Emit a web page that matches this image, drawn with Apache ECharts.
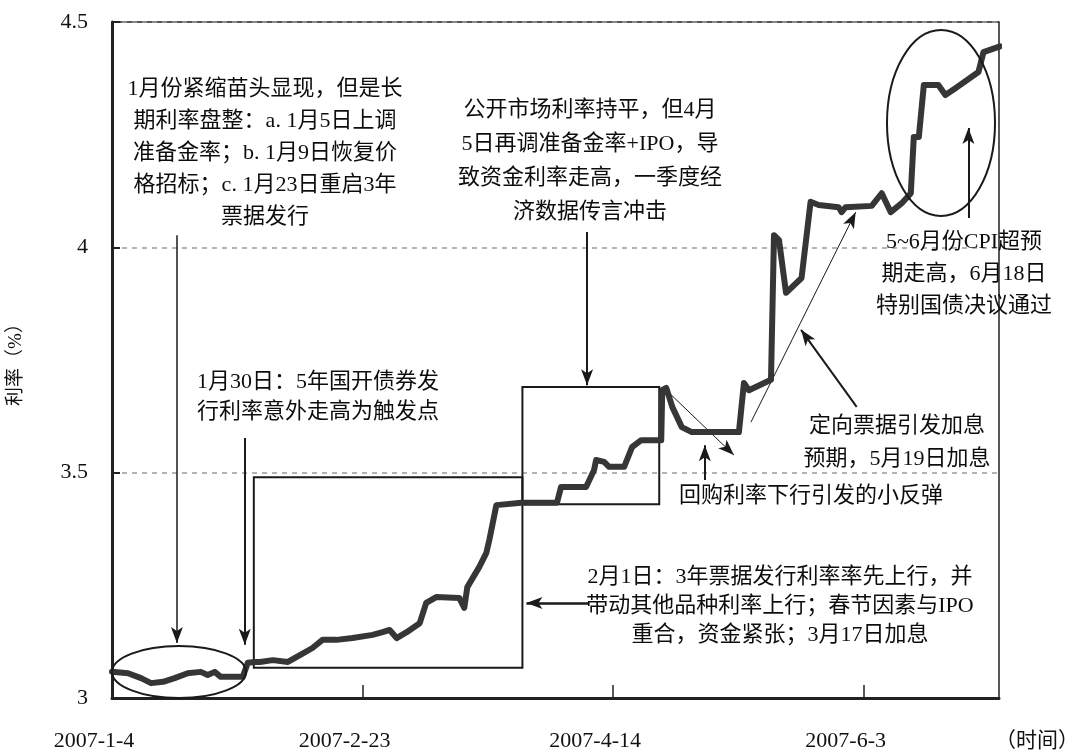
<!DOCTYPE html>
<html>
<head>
<meta charset="utf-8">
<script src="https://cdn.jsdelivr.net/npm/echarts@6/dist/echarts.min.js"></script>
<style>
  html, body { margin: 0; padding: 0; background: #fff; overflow: hidden; }
  #main { width: 1072px; height: 756px; }
</style>
</head>
<body>
<div id="main"></div>
<script>
// days counted from 2007-1-4, rates in %
var days = [0, 3.2, 5.8, 7.8, 10.2, 12.5, 15.1, 17.7, 19.1, 20.5, 21.7, 24.5, 26.1, 27.1, 28.5,
    29.5, 32.1, 35.1, 37.5, 40.0, 42.0, 44.8, 48.0, 52.0, 54.0, 55.4, 56.8, 58.8, 61.4, 62.7,
    64.7, 69.3, 70.3, 70.9, 73.3, 74.7, 75.3, 76.7, 81.7, 88.8, 89.6, 94.6, 96.2, 96.6, 98.2,
    99.2, 102.2, 103.8, 105.6, 109.6, 109.8, 110.6, 111.8, 113.7, 115.7, 125.1, 126.1, 127.1,
    131.5, 132.1, 133.1, 134.5, 137.6, 139.4, 141.0, 145.0, 145.6, 146.4, 151.6, 153.6, 155.4,
    157.6, 159.4, 160.0, 161.0, 162.0, 164.9, 166.3, 168.3, 172.9, 173.9, 177.2];
var rates = [3.058, 3.055, 3.044, 3.033, 3.036, 3.044, 3.055, 3.058, 3.051, 3.058, 3.047, 3.047, 3.047, 3.078, 3.080,
    3.080, 3.084, 3.080, 3.095, 3.111, 3.129, 3.129, 3.133, 3.140, 3.146, 3.151, 3.133, 3.146, 3.166, 3.211,
    3.224, 3.222, 3.200, 3.246, 3.291, 3.322, 3.351, 3.428, 3.433, 3.433, 3.468, 3.468, 3.506, 3.528, 3.524,
    3.513, 3.513, 3.557, 3.572, 3.572, 3.683, 3.688, 3.646, 3.601, 3.590, 3.590, 3.699, 3.683,
    3.706, 4.027, 4.016, 3.899, 3.932, 4.101, 4.094, 4.089, 4.078, 4.089, 4.092, 4.120, 4.078,
    4.098, 4.120, 4.245, 4.245, 4.360, 4.360, 4.338, 4.353, 4.389, 4.433, 4.446];

var yTicks = [3, 3.5, 4, 4.5];

// boxes and arrows, in [day, rate]
var boxes = [
    [[28.3, 3.490], [81.9, 3.067]],
    [[81.9, 3.690], [109.2, 3.430]]
];
var arrows = [
    [[12.95, 4.027], [12.95, 3.122], 1.5],
    [[26.5, 3.577], [26.5, 3.118], 2],
    [[94.8, 4.034], [94.8, 3.694], 2],
    [[95.2, 3.211], [82.7, 3.211], 2.5],
    [[118.3, 3.484], [118.3, 3.561], 2],
    [[110.8, 3.681], [124.1, 3.539], 1],
    [[127.5, 3.612], [148.4, 4.078], 1],
    [[148.6, 3.646], [137.5, 3.817], 2],
    [[170.9, 4.065], [170.9, 4.265], 2]
];

var notes = [
    { text: '1月份紧缩苗头显现，但是长\n期利率盘整：a. 1月5日上调\n准备金率；b. 1月9日恢复价\n格招标；c. 1月23日重启3年\n票据发行', x: 265, y: 73, lh: 32 },
    { text: '公开市场利率持平，但4月\n5日再调准备金率+IPO，导\n致资金利率走高，一季度经\n济数据传言冲击', x: 590, y: 93, lh: 34 },
    { text: '1月30日：5年国开债券发\n行利率意外走高为触发点', x: 318, y: 367, lh: 30 },
    { text: '2月1日：3年票据发行利率率先上行，并\n带动其他品种利率上行；春节因素与IPO\n重合，资金紧张；3月17日加息', x: 780, y: 563, lh: 29 },
    { text: '回购利率下行引发的小反弹', x: 811, y: 481, lh: 30 },
    { text: '定向票据引发加息\n预期，5月19日加息', x: 897, y: 410, lh: 33 },
    { text: '5~6月份CPI超预\n期走高，6月18日\n特别国债决议通过', x: 964, y: 226, lh: 32 }
];

var FONT = '"Liberation Serif", "Noto Sans CJK SC"';
var dom = document.getElementById('main');
var myChart = echarts.init(dom);

var lineData = days.map(function (d, i) { return [d, rates[i]]; });

var graphics = notes.map(function (n) {
    return {
        type: 'text',
        x: n.x,
        y: n.y,
        z: 100,
        style: {
            text: n.text,
            fill: '#0d0d0d',
            font: '22px ' + FONT,
            align: 'center',
            verticalAlign: 'top',
            lineHeight: n.lh
        }
    };
});
graphics.push({
    type: 'ellipse',
    shape: { cx: 179, cy: 672, rx: 67, ry: 26 },
    style: { fill: 'none', stroke: '#1a1a1a', lineWidth: 2 },
    z: 100
});
graphics.push({
    type: 'ellipse',
    shape: { cx: 941, cy: 123, rx: 54, ry: 93 },
    style: { fill: 'none', stroke: '#1a1a1a', lineWidth: 2 },
    z: 100
});

myChart.setOption({
    animation: false,
    grid: {
        left: 112,
        right: 73,
        top: 22,
        bottom: 58,
        outerBoundsMode: 'none',
        containLabel: false,
        show: true,
        borderColor: '#222',
        borderWidth: 1.5
    },
    xAxis: {
        type: 'value',
        min: 0,
        max: 177,
        interval: 50,
        name: '（时间）',
        nameLocation: 'end',
        nameGap: -4,
        nameTextStyle: {
            fontFamily: FONT,
            fontSize: 21,
            color: '#111',
            align: 'left',
            verticalAlign: 'top',
            padding: [33, 0, 0, 0]
        },
        axisLine: { lineStyle: { color: '#222', width: 3 } },
        axisTick: { inside: true, length: 13, lineStyle: { color: '#222', width: 1.5 } },
        splitLine: { show: false },
        axisLabel: {
            margin: 32,
            color: '#111',
            fontFamily: FONT,
            fontSize: 22,
            padding: [0, 36, 0, 0],
            showMaxLabel: false,
            formatter: function (v) {
                if (v % 50) return '';
                var d = new Date(2007, 0, 4 + v);
                return d.getFullYear() + '-' + (d.getMonth() + 1) + '-' + d.getDate();
            }
        }
    },
    yAxis: {
        type: 'value',
        min: yTicks[0],
        max: yTicks[yTicks.length - 1],
        interval: 0.5,
        name: '利率（%）',
        nameLocation: 'middle',
        nameRotate: 90,
        nameGap: 86,
        nameTextStyle: { fontFamily: FONT, fontSize: 19, color: '#111' },
        axisLine: { lineStyle: { color: '#222', width: 3 } },
        axisTick: { inside: true, length: 8, lineStyle: { color: '#222', width: 2 } },
        splitLine: { show: true, lineStyle: { color: '#9a9a9a', type: [5, 5], width: 1.5 } },
        axisLabel: {
            margin: 24,
            color: '#111',
            fontFamily: FONT,
            fontSize: 22,
            formatter: function (v) { return String(v); }
        }
    },
    series: [{
        type: 'line',
        data: lineData,
        symbol: 'none',
        clip: false,
        z: 5,
        lineStyle: { color: '#363636', width: 6, join: 'round', cap: 'round' },
        markArea: {
            silent: true,
            itemStyle: { color: 'rgba(0,0,0,0)', borderColor: '#1a1a1a', borderWidth: 2 },
            data: boxes.map(function (b) {
                return [{ coord: b[0] }, { coord: b[1] }];
            })
        },
        markLine: {
            silent: true,
            animation: false,
            symbol: ['none', 'arrow'],
            symbolSize: [9, 16],
            label: { show: false },
            emphasis: { disabled: true },
            data: arrows.map(function (a) {
                return [
                    { coord: a[0], lineStyle: { color: '#1a1a1a', width: a[2], type: 'solid' } },
                    { coord: a[1] }
                ];
            })
        }
    }],
    graphic: graphics
});

window.onresize = function () {
    myChart.resize();
};
</script>
</body>
</html>
